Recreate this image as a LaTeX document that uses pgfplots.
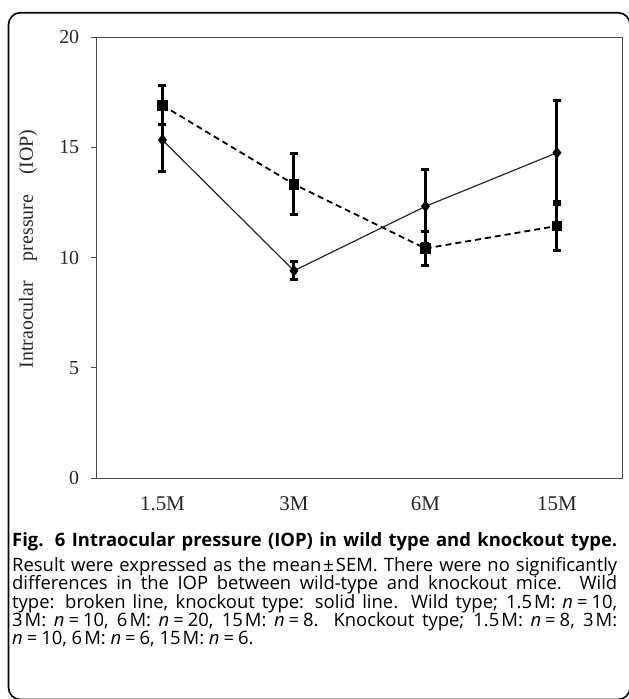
\documentclass[border=0pt]{standalone}
\usepackage{pgfplots}
\pgfplotsset{compat=1.18}
\usepackage{fontspec}
\setmainfont{Liberation Serif}
\newfontfamily\capfont{Open Sans}
\begin{document}
\begin{tikzpicture}
\path[use as bounding box] (0,0) rectangle (629bp,-699bp);
\clip (0,0) rectangle (629bp,-699bp);
\draw[line width=1.6bp, rounded corners=12bp] (8.5bp,-12.7bp) rectangle (630bp,-699.5bp);
\begin{axis}[
  at={(96.7bp,-478bp)}, anchor=south west,
  width=526bp, height=441bp, scale only axis,
  xmin=-0.5, xmax=3.5, ymin=0, ymax=20,
  xtick={0,1,2,3}, xticklabels={1.5M,3M,6M,15M},
  ytick={0,5,10,15,20},
  ytick pos=left, tick align=outside,
  major tick length=6bp,
  x tick style={draw=none},
  axis line style={draw=black!70, line width=1bp},
  y tick style={draw=black!70, line width=1bp},
  tick label style={font=\fontsize{20}{24}\selectfont, text=black!85},
  yticklabel style={xshift=-8bp},
  xticklabel style={yshift=-9bp, font=\fontsize{21}{24}\selectfont},
  /pgf/number format/assume math mode=true,
  clip=false,
]
% Wild type: broken line, squares
\addplot[black, line width=1.8bp, dash pattern=on 6bp off 4bp,
  mark=square*, mark size=4.5bp, mark options={solid},
  error bars/.cd, y dir=both, y explicit,
  error bar style={solid, line width=3bp, black},
  error mark options={solid, rotate=90, line width=3bp, mark size=4bp, black}]
coordinates {
(0,16.90) +- (0,0.88)
(1,13.32) +- (0,1.38)
(2,10.41) +- (0,0.75)
(3,11.43) +- (0,1.09)
};
% Knockout type: solid line, diamonds
\addplot[black!85, line width=1.2bp,
  mark=diamond*, mark size=5bp, mark options={solid, black},
  error bars/.cd, y dir=both, y explicit,
  error bar style={solid, line width=3bp, black},
  error mark options={solid, rotate=90, line width=3bp, mark size=4bp, black}]
coordinates {
(0,15.33) +- (0,1.43)
(1,9.40) +- (0,0.40)
(2,12.32) +- (0,1.69)
(3,14.75) +- (0,2.35)
};
\end{axis}
\node[rotate=90, font=\fontsize{20}{22}\selectfont, text=black!85] at (28bp,-249bp)
  {Intraocular\hspace{1em}pressure\hspace{1em}(IOP)};
\def\capw{605bp}
\def\eq{\kern4pt=\kern4pt}
\node[anchor=base west, inner sep=0] at (12bp,-546.5bp)
  {\capfont\bfseries\fontsize{18.5}{18}\selectfont\makebox[\capw][s]{Fig. 6 Intraocular pressure (IOP) in wild type and knockout type.}};
\node[anchor=base west, inner sep=0] at (12bp,-571.6bp)
  {\capfont\fontsize{18.5}{18}\selectfont\makebox[\capw][s]{Result were expressed as the mean\kern2pt±\kern2pt SEM. There were no significantly}};
\node[anchor=base west, inner sep=0] at (12bp,-589.9bp)
  {\capfont\fontsize{18.5}{18}\selectfont\makebox[\capw][s]{differences in the IOP between wild-type and knockout mice. Wild}};
\node[anchor=base west, inner sep=0] at (12bp,-608.2bp)
  {\capfont\fontsize{18.5}{18}\selectfont\makebox[\capw][s]{type: broken line, knockout type: solid line. Wild type; 1.5\kern2pt M: {\itshape n}\eq10,}};
\node[anchor=base west, inner sep=0] at (12bp,-626.6bp)
  {\capfont\fontsize{18.5}{18}\selectfont\makebox[\capw][s]{3\kern2pt M: {\itshape n}\eq10, 6\kern2pt M: {\itshape n}\eq20, 15\kern2pt M: {\itshape n}\eq8. Knockout type; 1.5\kern2pt M: {\itshape n}\eq8, 3\kern2pt M:}};
\node[anchor=base west, inner sep=0] at (12bp,-644.9bp)
  {\capfont\fontsize{18.5}{18}\selectfont {\itshape n}\eq10, 6\kern2pt M: {\itshape n}\eq6, 15\kern2pt M: {\itshape n}\eq6.};
\end{tikzpicture}
\end{document}
